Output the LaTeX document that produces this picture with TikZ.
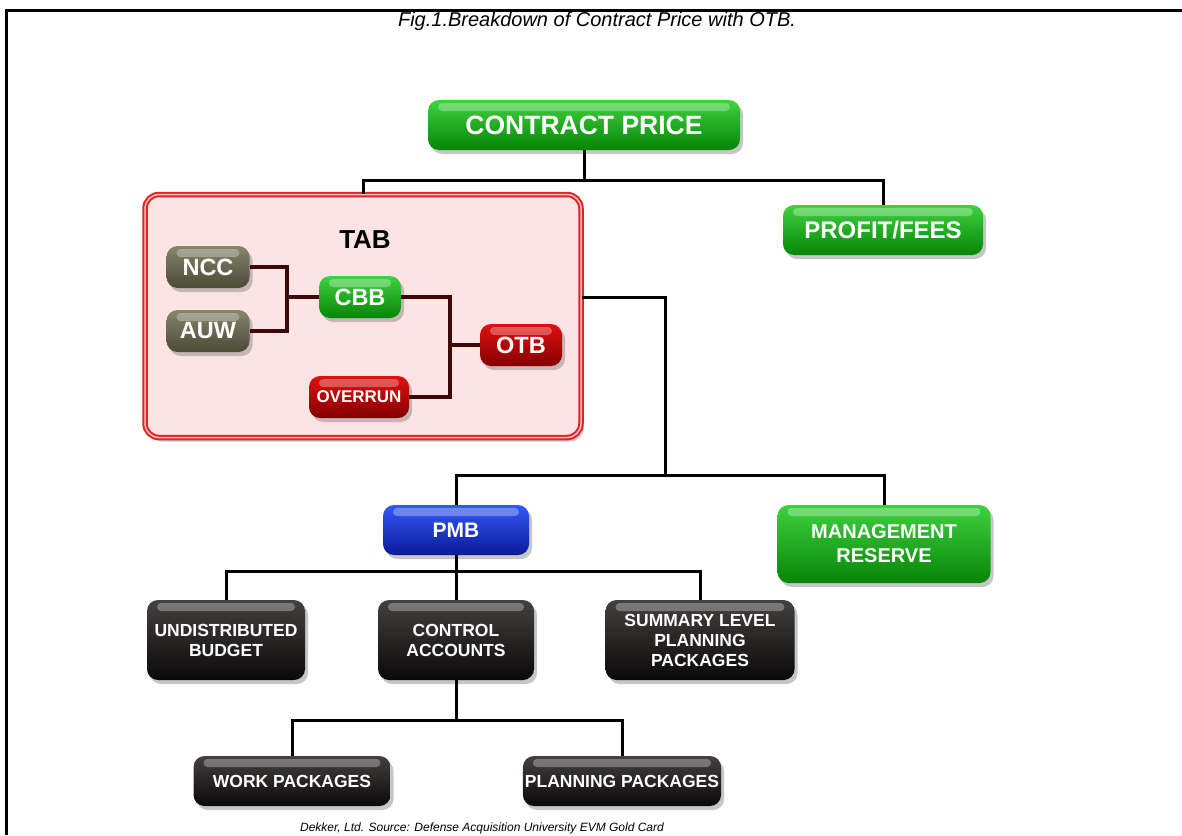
\documentclass[tikz,border=0pt]{standalone}
\usepackage{fontspec}
\setmainfont{Liberation Sans}
\usepackage{tikz}
\usetikzlibrary{shadows,calc}

\definecolor{grtop}{HTML}{3FD23F}
\definecolor{grbot}{HTML}{078507}
\definecolor{rdtop}{HTML}{E01010}
\definecolor{rdbot}{HTML}{850000}
\definecolor{oltop}{HTML}{85856A}
\definecolor{olbot}{HTML}{4A4A35}
\definecolor{bltop}{HTML}{3558F5}
\definecolor{blbot}{HTML}{0A1A9A}
\definecolor{bktop}{HTML}{454040}
\definecolor{bkbot}{HTML}{0A0808}
\definecolor{tabpink}{HTML}{FCE4E4}
\definecolor{tabred}{HTML}{E02424}
\definecolor{tabline}{HTML}{3E0808}

\begin{document}
\begin{tikzpicture}[x=1pt, y=-1pt, font=\bfseries]
	\tikzset{pill/.style={rounded corners=11pt, inner sep=2pt, align=center, text=white,
			drop shadow={opacity=0.45, shadow xshift=3pt, shadow yshift=-4pt},
			path picture={\fill[white, opacity=0.3, rounded corners=4pt]
				([xshift=10pt, yshift=-3pt]path picture bounding box.north west) rectangle
				([xshift=-10pt, yshift=-11pt]path picture bounding box.north east);}},
		greenpill/.style={pill, top color=grtop, bottom color=grbot},
		redpill/.style={pill, top color=rdtop, bottom color=rdbot},
		olivepill/.style={pill, top color=oltop, bottom color=olbot},
		bluepill/.style={pill, top color=bltop, bottom color=blbot},
		blackpill/.style={pill, top color=bktop, bottom color=bkbot, font=\bfseries\fontsize{17.5}{20}\selectfont},
		link/.style={line width=3pt, black},
		tablink/.style={line width=3.5pt, tabline}}
	\useasboundingbox (0,0) rectangle (1182,835);
	% frame and captions
	\draw[line width=3pt] (6,835) -- (6,10) -- (1182,10);
	\node[font=\itshape\fontsize{20}{22}\selectfont] (caption) at (597,21) {Fig.1.Breakdown of Contract Price with OTB.};
	\node[font=\itshape\fontsize{12}{14}\selectfont] (source) at (482,828) {Dekker, Ltd. Source: Defense Acquisition University EVM Gold Card};
	% top level
	\node[greenpill, minimum width=312pt, minimum height=50pt, font=\bfseries\fontsize{26.5}{28}\selectfont] (price) at (584,125) {CONTRACT PRICE};
	\node[greenpill, minimum width=200pt, minimum height=50pt, font=\bfseries\fontsize{24}{26}\selectfont] (profit) at (883,230) {PROFIT/FEES};
	\node[rounded corners=14pt, minimum width=436pt, minimum height=243pt, fill=tabpink, draw=tabred,
		line width=2pt, double=white!70!tabred, double distance=1.5pt,
		drop shadow={opacity=0.4, shadow xshift=3pt, shadow yshift=-4pt}] (tab) at (363,316) {};
	\node[font=\bfseries\fontsize{26}{28}\selectfont] (tablabel) at (365,240) {TAB};
	% inside TAB
	\node[olivepill, minimum width=83pt, minimum height=42pt, font=\bfseries\fontsize{23.5}{25}\selectfont] (ncc) at (208,267) {NCC};
	\node[olivepill, minimum width=83pt, minimum height=42pt, font=\bfseries\fontsize{23.5}{25}\selectfont] (auw) at (208,331) {AUW};
	\node[greenpill, minimum width=82pt, minimum height=42pt, font=\bfseries\fontsize{23.5}{25}\selectfont] (cbb) at (360,297) {CBB};
	\node[redpill, minimum width=82pt, minimum height=42pt, font=\bfseries\fontsize{23.5}{25}\selectfont] (otb) at (521,345) {OTB};
	\node[redpill, minimum width=100pt, minimum height=42pt, font=\bfseries\fontsize{17}{19}\selectfont] (overrun) at (359,397) {OVERRUN};
	\coordinate (njoin) at (287,297);
	\coordinate (ojoin) at (450,345);
	\draw[tablink] (ncc.east) -| (njoin) |- (auw.east);
	\draw[tablink] (njoin) -- (cbb.west);
	\draw[tablink] (cbb.east) -| (ojoin) |- (overrun.east);
	\draw[tablink] (ojoin) -- (otb.west);
	% budget levels
	\node[bluepill, minimum width=146pt, minimum height=50pt, font=\bfseries\fontsize{21}{23}\selectfont] (pmb) at (456,530) {PMB};
	\node[greenpill, minimum width=213pt, minimum height=78pt, font=\bfseries\fontsize{20}{24}\selectfont] (mr) at (884,544) {MANAGEMENT\\RESERVE};
	\node[blackpill, minimum width=158pt, minimum height=80pt] (ub) at (226,640) {UNDISTRIBUTED\\BUDGET};
	\node[blackpill, minimum width=156pt, minimum height=80pt] (ca) at (456,640) {CONTROL\\ACCOUNTS};
	\node[blackpill, minimum width=189pt, minimum height=80pt] (slpp) at (700,640) {SUMMARY LEVEL\\PLANNING\\PACKAGES};
	\node[blackpill, minimum width=197pt, minimum height=50pt] (wp) at (292,781) {WORK PACKAGES};
	\node[blackpill, minimum width=194pt, minimum height=50pt] (pp) at (622,781) {PLANNING PACKAGES};
	% connectors
	\coordinate (pricejoin) at (584,180);
	\coordinate (tabjoin) at (665,475);
	\coordinate (pmbjoin) at (456,571);
	\coordinate (cajoin) at (456,720);
	\draw[link] (price.south) -- (pricejoin);
	\draw[link] (tab.north) |- (pricejoin) -| (profit.north);
	\draw[link] (tab.east |- cbb) -| (tabjoin);
	\draw[link] (pmb.north) |- (tabjoin) -| (mr.north);
	\draw[link] (pmb.south) -- (pmbjoin) -- (ca.north);
	\draw[link] (ub.north) |- (pmbjoin) -| (slpp.north);
	\draw[link] (ca.south) -- (cajoin);
	\draw[link] (wp.north) |- (cajoin) -| (pp.north);
\end{tikzpicture}
\end{document}
